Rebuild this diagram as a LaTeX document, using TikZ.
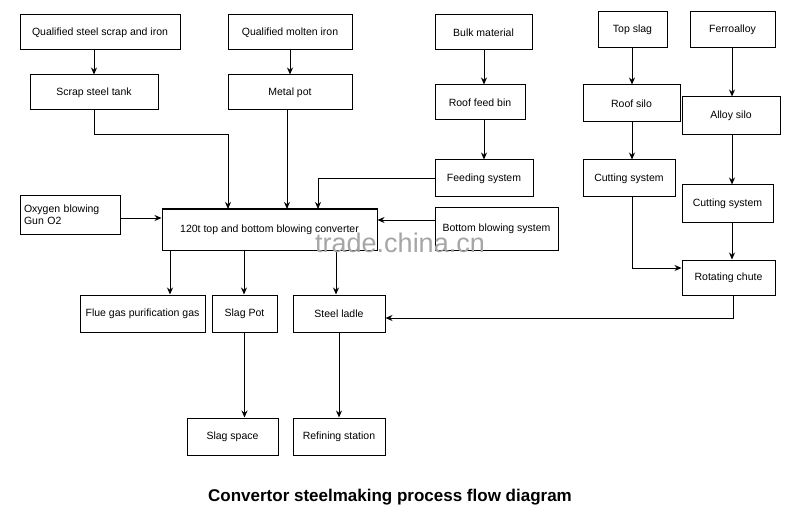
\documentclass[tikz,border=0pt]{standalone}
\usepackage{fontspec}
\setmainfont{Liberation Sans}
\usetikzlibrary{arrows.meta}
\begin{document}
\begin{tikzpicture}[x=1pt,y=-1pt,
  bx/.style={draw,line width=1pt,inner sep=0pt,font=\fontsize{10.5}{12}\selectfont},
  ar/.style={line width=1pt,-{Stealth[length=7pt,width=6pt]}}]
\useasboundingbox (0,0) rectangle (800,513);
\newcommand\bxn[6]{\node[bx,minimum width=#4-#2,minimum height=#5-#3,align=center] (#1) at ({(#2+#4)/2},{(#3+#5)/2}) {#6};}
\bxn{qs}{20}{15}{180}{50}{Qualified steel scrap and iron}
\bxn{qm}{228}{15}{352}{50}{Qualified molten iron}
\bxn{bm}{435}{15}{532}{50}{Bulk material}
\bxn{ts}{598}{12}{667}{48}{Top slag}
\bxn{fa}{690}{12}{775}{48}{Ferroalloy}
\bxn{st}{30}{75}{158}{110}{Scrap steel tank}
\bxn{mp}{228}{75}{352}{110}{Metal pot}
\bxn{rf}{435}{85}{525}{120}{Roof feed bin}
\bxn{rs}{583}{85}{680}{122}{Roof silo}
\bxn{as}{682}{97}{780}{135}{Alloy silo}
\bxn{fs}{435}{160}{533}{197}{Feeding system}
\bxn{cl}{583}{160}{675}{197}{Cutting system}
\bxn{cr}{682}{185}{773}{222}{Cutting system}
\node[bx,minimum width=100,minimum height=39,align=left,text width=92] (ox) at (70,215) {Oxygen blowing\\Gun O2};
\bxn{cv}{162}{209}{377}{250}{120t top and bottom blowing converter}
\bxn{bb}{435}{208}{558}{250}{Bottom blowing system}
\bxn{rc}{682}{260}{775}{295}{Rotating chute}
\bxn{fg}{80}{295}{205}{332}{Flue gas purification gas}
\bxn{sp}{212}{295}{277}{332}{Slag Pot}
\bxn{sl}{293}{295}{385}{332}{Steel ladle}
\bxn{ss}{187}{418}{278}{455}{Slag space}
\bxn{rs2}{293}{418}{385}{455}{Refining station}
\draw[ar] (qs.south -| st) -- (st);
\draw[ar] (qm) -- (mp);
\draw[ar] (bm.south -| 484,0) -- (rf.north -| 484,0);
\draw[ar] (rf.south -| 484,0) -- (fs.north -| 484,0);
\draw[ar] (ts.south -| 632,0) -- (rs.north -| 632,0);
\draw[ar] (rs.south -| 632,0) -- (cl.north -| 632,0);
\draw[ar] (fa.south -| 732,0) -- (as.north -| 732,0);
\draw[ar] (as.south -| 732,0) -- (cr.north -| 732,0);
\draw[ar] (st.south) |- (228,135) -- (228,209);
\draw[ar] (mp.south -| 287,0) -- (287,209);
\draw[ar] (fs.west) -| (318,209);
\draw[ar] (bb.west |- 0,220) -- (cv.east |- 0,220);
\draw[ar] (ox.east |- 0,218) -- (cv.west |- 0,218);
\draw[ar] (170,250) -- (fg.north -| 170,0);
\draw[ar] (244,250) -- (sp.north -| 244,0);
\draw[ar] (336,250) -- (sl.north -| 336,0);
\draw[ar] (cl.south -| 632,0) |- (rc.west |- 0,268);
\draw[ar] (cr.south -| 732,0) -- (rc.north -| 732,0);
\draw[ar] (rc.south -| 733,0) |- (sl.east |- 0,318);
\draw[ar] (sp) -- (ss.north -| sp);
\draw[ar] (sl) -- (rs2.north -| sl);
\node[font=\fontsize{17}{20}\selectfont\bfseries] (title) at (390,497) {Convertor steelmaking process flow diagram};
\node[font=\fontsize{27}{30}\selectfont,text=gray!70] (wm) at (400,243) {trade.china.cn};
\end{tikzpicture}
\end{document}
